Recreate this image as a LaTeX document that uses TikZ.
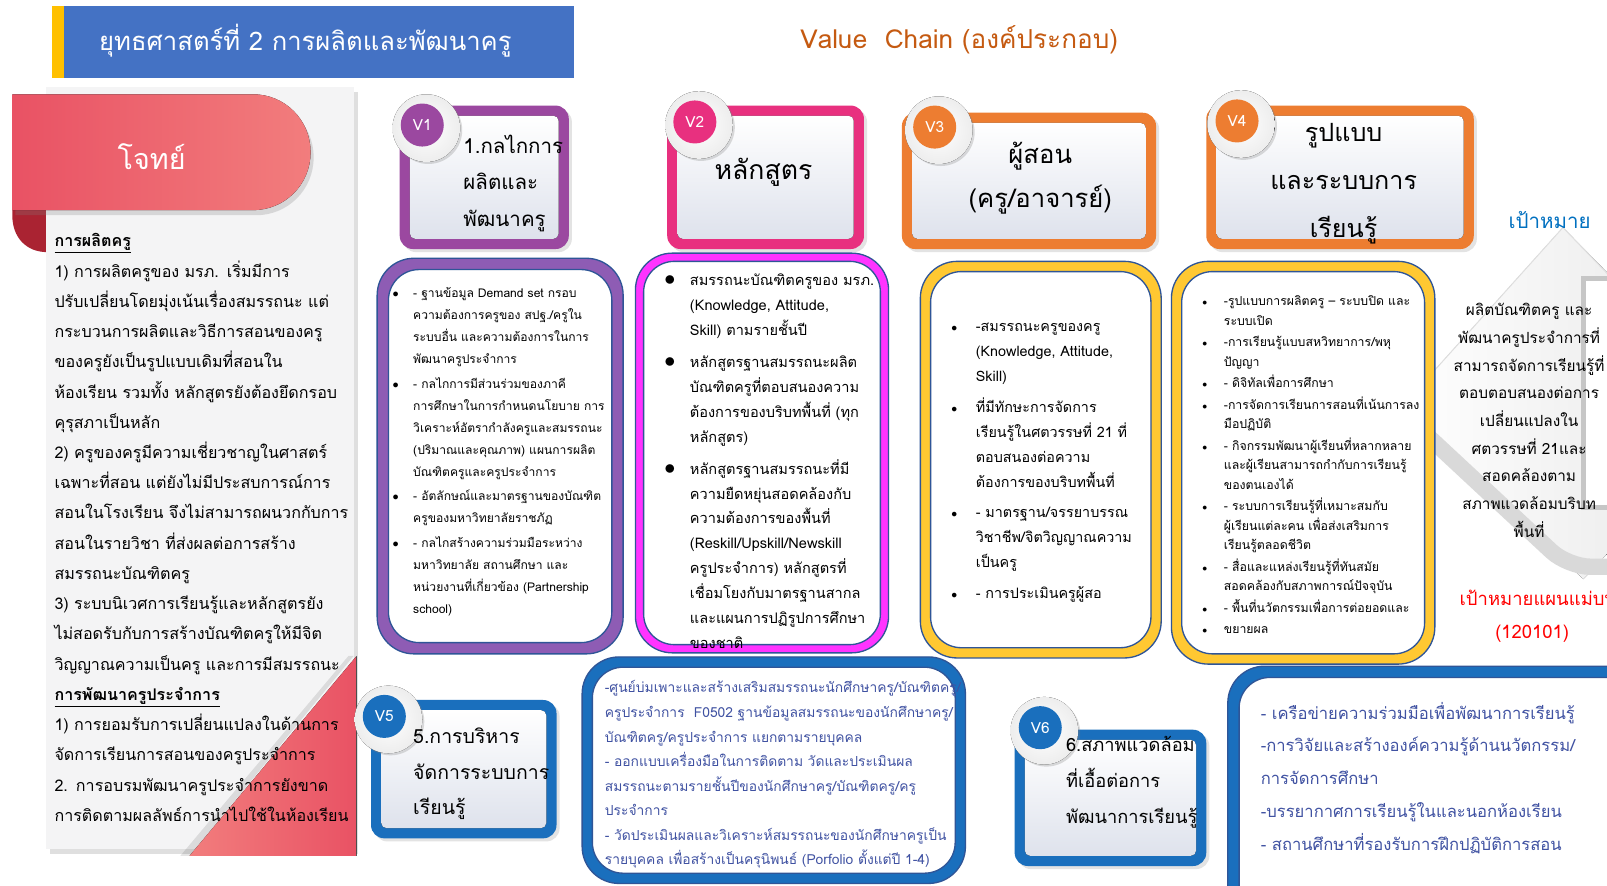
\documentclass[tikz,border=0pt]{standalone}
\usepackage{fontspec}
\setmainfont[Script=Thai]{Loma}
\usetikzlibrary{shadows,calc}
\definecolor{titleblue}{RGB}{68,114,196}
\definecolor{titleyellow}{RGB}{255,192,0}
\definecolor{vcorange}{RGB}{197,90,17}
\definecolor{redL}{RGB}{233,82,100}
\definecolor{redR}{RGB}{242,125,125}
\definecolor{curlred}{RGB}{170,35,50}
\definecolor{panelgrey}{RGB}{244,244,245}
\definecolor{vpurple}{RGB}{155,72,160}
\definecolor{vpink}{RGB}{232,48,127}
\definecolor{vorange}{RGB}{237,125,49}
\definecolor{vblue}{RGB}{26,111,189}
\definecolor{dpurple}{RGB}{142,92,180}
\definecolor{dmagenta}{RGB}{255,51,255}
\definecolor{dyellow}{RGB}{255,200,50}
\definecolor{dnavy}{RGB}{47,85,151}
\definecolor{txtblue}{RGB}{64,82,162}
\definecolor{goalblue}{RGB}{0,112,192}
\definecolor{goalred}{RGB}{255,0,0}
\definecolor{innergrey}{RGB}{222,226,236}
\lineskiplimit=-100pt
\newlength\bulind
\newcommand\bsym{$\bullet$}
\newcommand\bl[1]{\par\hangindent=\bulind\hangafter=1\noindent\hbox to\bulind{\bsym\hss}\strut#1}
\newcommand\nl{\newline}
\newcommand\vframe[5]{%
 \fill[#1, rounded corners=13pt, drop shadow={opacity=.22, shadow xshift=3pt, shadow yshift=-3pt}] (#2,#3) rectangle (#4,#5);
 \fill[top color=white, bottom color=innergrey, rounded corners=5pt] (#2+10,#3+10) rectangle (#4-10,#5-10);}
\newcommand\badge[5]{%
 \fill[inner color=white, outer color=gray!14, drop shadow={opacity=.28, shadow xshift=2pt, shadow yshift=-2pt}] (#3+4,#4+3) circle (33pt);
 \node[circle, fill=#2, minimum size=42pt, inner sep=0pt, text=white, font=\fontsize{15}{18}\selectfont] (#1) at (#3,#4) {#5};}
\newcommand\detbox[6]{%
 \path[fill=#1, draw=dnavy, line width=1.3pt, rounded corners=36pt] (#2,#3) rectangle (#4,#5);
 \path[fill=white, draw=dnavy, line width=1.3pt, rounded corners=30pt] (#2+#6,#3+#6) rectangle (#4-#6,#5-#6);}
\begin{document}
\begin{tikzpicture}[x=1pt,y=-1pt,
  dtext/.style={anchor=north west, inner sep=0pt},
  vtext/.style={inner sep=0pt}]
\useasboundingbox (0,0) rectangle (1568,864);
\fill[white] (0,0) rectangle (1568,864);
% title
\fill[titleyellow] (51,6) rectangle (62,76);
\fill[titleblue] (62,6) rectangle (560,76);
\node[vtext, font=\fontsize{25}{30}\selectfont, text=white] (title) at (298,40) {ยุทธศาสตร์ที่ 2 การผลิตและพัฒนาครู};
\node[vtext, font=\fontsize{25.5}{30}\selectfont, text=vcorange] (vc) at (936,39) {Value\ \ Chain (องค์ประกอบ)};
% left panel
\fill[curlred] (12,200) -- (46,200) -- (46,246) .. controls (26,246) and (12,232) .. (12,210) -- cycle;
\fill[panelgrey, drop shadow={opacity=.25, shadow xshift=4pt, shadow yshift=-5pt}] (45,85) rectangle (345,828);
\fill[left color=redL, right color=redR, drop shadow={opacity=.25, shadow xshift=3pt, shadow yshift=-5pt}] (12,92) [rounded corners=56pt] -- (303,92) -- (303,205) [sharp corners] -- (12,205) -- cycle;
\node[vtext, font=\fontsize{28}{32}\selectfont, text=white] (problem) at (148,153) {โจทย์};
\fill[black, opacity=.10] (176,835) -- (340,640) -- (345,640) -- (185,835) -- cycle;
\fill[left color=redR, right color=redL] (185,835) -- (348,835) -- (348,640) -- cycle;
\node[dtext, font=\fontsize{15.7}{29.5}\selectfont, text width=420pt] (ptext) at (53,220) {\raggedright\strut
\underline{\textbf{การผลิตครู}}\nl
1) การผลิตครูของ มรภ. เริ่มมีการ\nl
ปรับเปลี่ยนโดยมุ่งเน้นเรื่องสมรรถนะ แต่\nl
กระบวนการผลิตและวิธีการสอนของครู\nl
ของครูยังเป็นรูปแบบเดิมที่สอนใน\nl
ห้องเรียน รวมทั้ง หลักสูตรยังต้องยึดกรอบ\nl
คุรุสภาเป็นหลัก\nl
2) ครูของครูมีความเชี่ยวชาญในศาสตร์\nl
เฉพาะที่สอน แต่ยังไม่มีประสบการณ์การ\nl
สอนในโรงเรียน จึงไม่สามารถผนวกกับการ\nl
สอนในรายวิชา ที่ส่งผลต่อการสร้าง\nl
สมรรถนะบัณฑิตครู\nl
3) ระบบนิเวศการเรียนรู้และหลักสูตรยัง\nl
ไม่สอดรับกับการสร้างบัณฑิตครูให้มีจิต\nl
วิญญาณความเป็นครู และการมีสมรรถนะ\nl
\underline{\textbf{การพัฒนาครูประจำการ}}\nl
1) การยอมรับการเปลี่ยนแปลงในด้านการ\nl
จัดการเรียนการสอนของครูประจำการ\nl
2. การอบรมพัฒนาครูประจำการยังขาด\nl
การติดตามผลลัพธ์การนำไปใช้ในห้องเรียน\par};
% goal chevron
\fill[left color=white, right color=gray!20] (1365,400) -- (1525,222) -- (1700,400) -- (1545,565) -- cycle;
\draw[gray!25, line width=1pt] (1365,400) -- (1525,222) -- (1600,300);
\draw[gray!30, line width=16pt, rounded corners=22pt] (1385,418) -- (1530,553) -- (1600,553);
\draw[gray!45, line width=5pt, fill=white] (1545,272) rectangle (1620,495);
% top value boxes
\vframe{vpurple}{390}{103}{555}{243}
\vframe{vpink}{651}{103}{843}{243}
\vframe{vorange}{880}{110}{1128}{243}
\vframe{vorange}{1177}{103}{1438}{243}
\badge{b1}{vpurple}{412}{122}{V1}
\badge{b2}{vpink}{678}{119}{V2}
\badge{b3}{vorange}{912}{124}{V3}
\badge{b4}{vorange}{1207}{118}{V4}
\node[vtext, font=\fontsize{20}{36}\selectfont, align=left, anchor=west] (v1t) at (452,179) {1.กลไกการ\\ผลิตและ\\พัฒนาครู};
\node[vtext, font=\fontsize{26}{30}\selectfont] (v2t) at (745,168) {หลักสูตร};
\node[vtext, font=\fontsize{25}{43}\selectfont, align=center] (v3t) at (1015,174) {ผู้สอน\\(ครู/อาจารย์)};
\node[vtext, font=\fontsize{24.5}{47}\selectfont, align=center] (v4t) at (1311,179) {รูปแบบ\\และระบบการ\\เรียนรู้};
% detail boxes row
\detbox{dpurple}{368}{252}{608}{638}{11}
\detbox{dmagenta}{620}{247}{867}{637}{8}
\detbox{dyellow}{898}{255}{1133}{642}{10}
\detbox{dyellow}{1143}{255}{1400}{648}{10}
\node[dtext, font=\fontsize{11.8}{21.5}\selectfont, text width=240pt] (d1t) at (383,266) {\raggedright\setlength\bulind{20pt}\setlength\parskip{2.5pt}%
\bl{- ฐานข้อมูล Demand set กรอบ\nl ความต้องการครูของ สปฐ./ครูใน\nl ระบบอื่น และความต้องการในการ\nl พัฒนาครูประจำการ}
\bl{- กลไกการมีส่วนร่วมของภาคี\nl การศึกษาในการกำหนดนโยบาย การ\nl วิเคราะห์อัตรากำลังครูและสมรรถนะ\nl (ปริมาณและคุณภาพ) แผนการผลิต\nl บัณฑิตครูและครูประจำการ}
\bl{- อัตลักษณ์และมาตรฐานของบัณฑิต\nl ครูของมหาวิทยาลัยราชภัฏ}
\bl{- กลไกสร้างความร่วมมือระหว่าง\nl มหาวิทยาลัย สถานศึกษา และ\nl หน่วยงานที่เกี่ยวข้อง (Partnership\nl school)}\par};
\node[dtext, font=\fontsize{14.2}{24.3}\selectfont, text width=240pt] (d2t) at (648,247) {\raggedright\setlength\bulind{25pt}\setlength\parskip{7pt}\renewcommand\bsym{\scalebox{1.5}{$\bullet$}}%
\bl{สมรรถนะบัณฑิตครูของ มรภ.\nl (Knowledge, Attitude,\nl Skill) ตามรายชั้นปี}
\bl{หลักสูตรฐานสมรรถนะผลิต\nl บัณฑิตครูที่ตอบสนองความ\nl ต้องการของบริบทพื้นที่ (ทุก\nl หลักสูตร)}
\bl{หลักสูตรฐานสมรรถนะที่มี\nl ความยืดหยุ่นสอดคล้องกับ\nl ความต้องการของพื้นที่\nl (Reskill/Upskill/Newskill\nl ครูประจำการ) หลักสูตรที่\nl เชื่อมโยงกับมาตรฐานสากล\nl และแผนการปฏิรูปการศึกษา\nl ของชาติ}\par};
\node[dtext, font=\fontsize{14}{24.5}\selectfont, text width=230pt] (d3t) at (928,294) {\raggedright\setlength\bulind{24pt}\setlength\parskip{5pt}\renewcommand\bsym{\scalebox{.8}{$\bullet$}}%
\bl{-สมรรถนะครูของครู\nl (Knowledge, Attitude,\nl Skill)}
\bl{ที่มีทักษะการจัดการ\nl เรียนรู้ในศตวรรษที่ 21 ที่\nl ตอบสนองต่อความ\nl ต้องการของบริบทพื้นที่}
\bl{- มาตรฐาน/จรรยาบรรณ\nl วิชาชีพ/จิตวิญญาณความ\nl เป็นครู}
\bl{- การประเมินครูผู้สอ}\par};
\node[dtext, font=\fontsize{12}{19}\selectfont, text width=240pt] (d4t) at (1173,277) {\raggedright\setlength\bulind{21pt}\setlength\parskip{2pt}\renewcommand\bsym{\scalebox{.8}{$\bullet$}}%
\bl{-รูปแบบการผลิตครู – ระบบปิด และ\nl ระบบเปิด}
\bl{-การเรียนรู้แบบสหวิทยาการ/พหุ\nl ปัญญา}
\bl{- ดิจิทัลเพื่อการศึกษา}
\bl{-การจัดการเรียนการสอนที่เน้นการลง\nl มือปฏิบัติ}
\bl{- กิจกรรมพัฒนาผู้เรียนที่หลากหลาย\nl และผู้เรียนสามารถกำกับการเรียนรู้\nl ของตนเองได้}
\bl{- ระบบการเรียนรู้ที่เหมาะสมกับ\nl ผู้เรียนแต่ละคน เพื่อส่งเสริมการ\nl เรียนรู้ตลอดชีวิต}
\bl{- สื่อและแหล่งเรียนรู้ที่ทันสมัย\nl สอดคล้องกับสภาพการณ์ปัจจุบัน}
\bl{- พื้นที่นวัตกรรมเพื่อการต่อยอดและ}
\bl{ขยายผล}\par};
% goal texts
\node[vtext, font=\fontsize{20}{24}\selectfont, text=goalblue] (goalhead) at (1512,215) {เป้าหมาย};
\node[vtext, anchor=north, font=\fontsize{15}{27}\selectfont, align=center] (goal) at (1492,296) {ผลิตบัณฑิตครู และ\\พัฒนาครูประจำการที่\\สามารถจัดการเรียนรู้ที่\\ตอบตอบสนองต่อการ\\เปลี่ยนแปลงใน\\ศตวรรษที่ 21และ\\สอดคล้องตาม\\สภาพแวดล้อมบริบท\\พื้นที่};
\node[vtext, anchor=west, font=\fontsize{18}{22}\selectfont, text=goalred] (plan) at (1424,583) {เป้าหมายแผนแม่บท};
\node[vtext, font=\fontsize{18}{22}\selectfont, text=goalred] (plancode) at (1495,618) {(120101)};
% bottom row
\vframe{vblue}{362}{683}{543}{818}
\vframe{vblue}{990}{712}{1177}{845}
\detbox{vblue}{568}{641}{942}{862}{10}
\detbox{vblue}{1198}{650}{1640}{920}{11}
\badge{b5}{vblue}{375}{699}{V5}
\badge{b6}{vblue}{1015}{710}{V6}
\node[vtext, font=\fontsize{19}{35}\selectfont, align=left, anchor=west] (v5t) at (403,755) {5.การบริหาร\\จัดการระบบการ\\เรียนรู้};
\node[vtext, font=\fontsize{17.8}{35}\selectfont, align=left, anchor=west] (v6t) at (1040,763) {6.สภาพแวดล้อม\\ที่เอื้อต่อการ\\พัฒนาการเรียนรู้};
\node[dtext, font=\fontsize{13.5}{24}\selectfont, text width=360pt, text=txtblue] (d5t) at (590,659) {\raggedright\strut
-ศูนย์บ่มเพาะและสร้างเสริมสมรรถนะนักศึกษาครู/บัณฑิตครู/\nl
ครูประจำการ\ \ F0502 ฐานข้อมูลสมรรถนะของนักศึกษาครู/\nl
บัณฑิตครู/ครูประจำการ แยกตามรายบุคคล\nl
- ออกแบบเครื่องมือในการติดตาม วัดและประเมินผล\nl
สมรรถนะตามรายชั้นปีของนักศึกษาครู/บัณฑิตครู/ครู\nl
ประจำการ\nl
- วัดประเมินผลและวิเคราะห์สมรรถนะของนักศึกษาครูเป็น\nl
รายบุคคล เพื่อสร้างเป็นครุนิพนธ์ (Porfolio ตั้งแต่ปี 1-4)\par};
\node[dtext, font=\fontsize{16.2}{32}\selectfont, text width=360pt, text=txtblue] (d6t) at (1230,679) {\raggedright\strut
- เครือข่ายความร่วมมือเพื่อพัฒนาการเรียนรู้\nl
-การวิจัยและสร้างองค์ความรู้ด้านนวัตกรรม/\nl
การจัดการศึกษา\nl
-บรรยากาศการเรียนรู้ในและนอกห้องเรียน\nl
- สถานศึกษาที่รองรับการฝึกปฏิบัติการสอน\par};
\end{tikzpicture}
\end{document}
